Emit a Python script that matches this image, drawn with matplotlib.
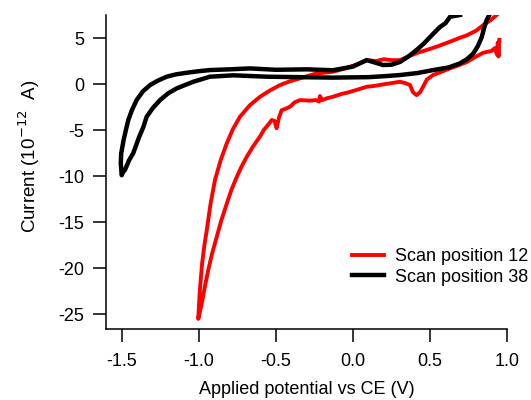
import matplotlib
matplotlib.use("Agg")
import matplotlib.pyplot as plt
import numpy as np

plt.rcParams['font.family'] = ['Liberation Sans', 'DejaVu Sans']

# Scan position 12 (red): cathodic branch from the right end, then anodic branch back up
scan12_v = np.array([0.95, 0.945, 0.94, 0.935, 0.92, 0.90, 0.845, 0.79, 0.74, 0.68, 0.63, 0.57, 0.52,
                     0.48, 0.455, 0.435, 0.413, 0.39, 0.37, 0.34, 0.305, 0.25, 0.19, 0.14, 0.089, 0.03,
                     -0.03, -0.08, -0.13, -0.17, -0.20, -0.215, -0.22, -0.24, -0.28, -0.344, -0.38,
                     -0.409, -0.44, -0.463, -0.48, -0.496, -0.51, -0.528, -0.545, -0.56, -0.58,
                     -0.604, -0.65, -0.69, -0.725, -0.755, -0.79, -0.82, -0.855, -0.885, -0.915,
                     -0.94, -0.962, -0.982, -0.995, -1.005,
                     -0.995, -0.98, -0.965, -0.95, -0.925, -0.896, -0.86, -0.82, -0.78, -0.734,
                     -0.67, -0.604, -0.54, -0.474, -0.41, -0.344, -0.29, -0.236, -0.18, -0.13,
                     -0.05, 0.02, 0.089, 0.15, 0.20, 0.25, 0.305, 0.36, 0.42, 0.478, 0.55, 0.63,
                     0.69, 0.74, 0.80, 0.845, 0.89, 0.933])
scan12_i = np.array([4.8, 3.0, 4.5, 3.2, 3.9, 3.6, 3.4, 2.9, 2.4, 2.0, 1.7, 1.3, 0.98,
                     0.5, -0.29, -0.9, -1.2, -0.9, -0.1, 0.1, 0.25, 0.1, -0.05, -0.2, -0.29, -0.6,
                     -0.9, -1.1, -1.38, -1.55, -1.74, -1.3, -1.9, -1.74, -1.8, -1.74, -2.0,
                     -2.46, -2.7, -2.83, -3.6, -4.8, -4.0, -3.9, -4.3, -4.6, -5.0,
                     -5.7, -6.8, -7.9, -9.0, -10.1, -11.5, -13.0, -14.8, -16.6, -18.4,
                     -20.2, -22.0, -23.8, -24.8, -25.5,
                     -22.5, -19.5, -17.5, -15.9, -13.0, -10.4, -8.3, -6.45, -4.9, -3.55,
                     -2.3, -1.38, -0.7, -0.11, 0.3, 0.62, 0.9, 1.16, 1.25, 1.34,
                     1.7, 2.1, 2.6, 2.5, 2.7, 2.6, 2.6, 3.0, 3.4, 3.7, 4.1, 4.6,
                     5.0, 5.3, 5.8, 6.4, 6.9, 7.5])

# Scan position 38 (black): cathodic branch from the right end, then anodic branch back up
scan38_v = np.array([0.885, 0.868, 0.85, 0.836, 0.81, 0.78, 0.74, 0.695, 0.62, 0.52, 0.42, 0.305,
                     0.2, 0.1, -0.13, -0.35, -0.56, -0.777, -0.929, -1.037, -1.09, -1.145, -1.2,
                     -1.253, -1.30, -1.34, -1.36, -1.39, -1.427, -1.455, -1.48, -1.495, -1.502,
                     -1.508, -1.505, -1.49, -1.475, -1.459, -1.435, -1.405, -1.365, -1.318, -1.27,
                     -1.21, -1.15, -1.08, -1.0, -0.929, -0.8, -0.669, -0.5, -0.3, -0.13, 0.0,
                     0.089, 0.15, 0.195, 0.25, 0.305, 0.36, 0.413, 0.46, 0.5, 0.535, 0.565,
                     0.60, 0.63, 0.66, 0.695])
scan38_i = np.array([7.5, 6.96, 6.0, 5.1, 4.1, 3.3, 2.7, 2.25, 1.8, 1.52, 1.2, 0.98,
                     0.85, 0.75, 0.7, 0.75, 0.8, 0.95, 0.8, 0.25, -0.1, -0.47, -1.0,
                     -1.74, -2.6, -3.55, -4.6, -5.8, -7.5, -8.3, -9.3, -9.6, -9.9,
                     -8.6, -7.5, -6.1, -5.0, -3.9, -2.8, -1.74, -0.8, -0.11, 0.35,
                     0.8, 1.05, 1.23, 1.4, 1.52, 1.6, 1.7, 1.55, 1.6, 1.5, 1.9,
                     2.6, 2.3, 2.07, 2.1, 2.4, 3.0, 3.7, 4.4, 5.1, 5.7, 6.2,
                     6.6, 7.3, 7.4, 7.5])

x_ticks = [-1.5, -1.0, -0.5, 0.0, 0.5, 1.0]
y_ticks = [5, 0, -5, -10, -15, -20, -25]

fig = plt.figure(figsize=(5.31, 4.0), dpi=100)
ax = fig.add_axes([106 / 531, 71 / 400, 401 / 531, 314 / 400])

ax.plot(scan12_v, scan12_i, color='#ff0000', lw=2.8, label="Scan position 12", solid_joinstyle='round')
ax.plot(scan38_v, scan38_i, color='black', lw=3.2, label="Scan position 38", solid_joinstyle='round')

ax.set_xlim(-1.604, 1.0)
ax.set_ylim(-26.6, 7.5)
ax.set_xticks(x_ticks)
ax.set_xticklabels([f"{t:.1f}" for t in x_ticks])
ax.set_yticks(y_ticks)
ax.set_yticklabels([str(t) for t in y_ticks])

for side in ['top', 'right']:
    ax.spines[side].set_visible(False)
for side in ['left', 'bottom']:
    ax.spines[side].set_linewidth(1.1)
ax.tick_params(direction='out', length=9.5, width=1.1, labelsize=13, pad=6)
ax.tick_params(axis='x', pad=8)

ax.set_xlabel("Applied potential vs CE (V)", fontsize=13)
ax.set_ylabel("Current (10$^{-12}$  A)", fontsize=13.5)
ax.xaxis.set_label_coords(0.5, -0.165)
ax.yaxis.set_label_coords(-0.16, 0.55)

ax.legend(loc='lower left', bbox_to_anchor=(0.595, 0.115), frameon=False, fontsize=13,
          handlelength=1.8, handletextpad=0.6, labelspacing=0.2, borderaxespad=0)

fig.savefig("out.png", dpi=100)
